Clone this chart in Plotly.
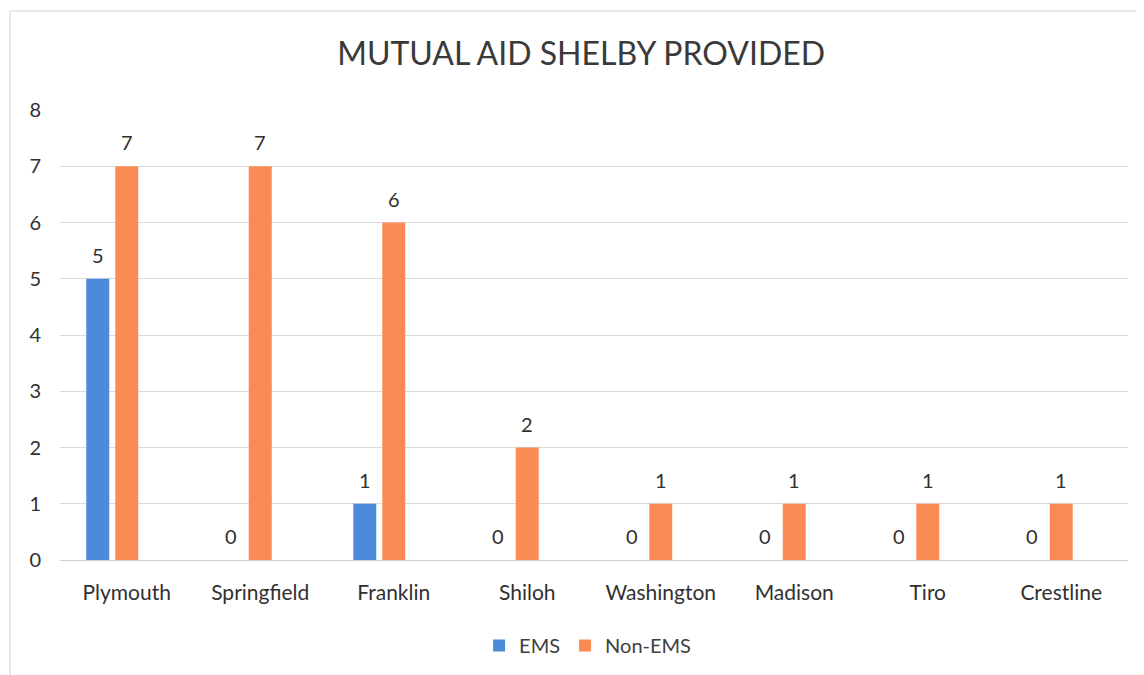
import plotly.graph_objects as go

categories = ["Plymouth", "Springfield", "Franklin", "Shiloh", "Washington", "Madison", "Tiro", "Crestline"]
ems = [5, 0, 1, 0, 0, 0, 0, 0]
non_ems = [7, 7, 6, 2, 1, 1, 1, 1]

x_idx = list(range(len(categories)))
BW = 0.172
GAP = 0.045
EMS_OFF = -BW / 2 - GAP - BW
NON_OFF = -BW / 2

fig = go.Figure()
fig.add_trace(go.Bar(
    x=x_idx, y=ems, name="EMS", width=BW, offset=EMS_OFF,
    marker=dict(color="#4C8BDA", line=dict(width=0)),
))
fig.add_trace(go.Bar(
    x=x_idx, y=non_ems, name="Non-EMS", width=BW, offset=NON_OFF,
    marker=dict(color="#FA8B54", line=dict(width=0)),
))

annotations = []
for xi, v in zip(x_idx, ems):
    annotations.append(dict(x=xi + EMS_OFF + BW / 2, y=v, xref="x", yref="y", text=str(v),
                            showarrow=False, yshift=24, font=dict(size=20, color="#303030")))
for xi, v in zip(x_idx, non_ems):
    annotations.append(dict(x=xi + NON_OFF + BW / 2, y=v, xref="x", yref="y", text=str(v),
                            showarrow=False, yshift=24, font=dict(size=20, color="#303030")))

fig.update_layout(
    width=1144, height=675,
    margin=dict(l=52, r=24, t=102, b=123),
    paper_bgcolor="white", plot_bgcolor="white",
    font=dict(family="Lato", color="#404040", size=20),
    title=dict(text="MUTUAL AID SHELBY PROVIDED", x=0.501, xanchor="center",
               y=0.932, yanchor="middle", font=dict(size=32, color="#3a3a3a", family="Lato")),
    showlegend=True,
    legend=dict(orientation="h", x=0.494, xanchor="center", y=-0.19, yanchor="middle",
                font=dict(size=20, color="#404040"), traceorder="normal", itemwidth=30),
    xaxis=dict(tickmode="array", tickvals=x_idx, ticktext=categories, range=[-0.5, 7.5],
               showgrid=False, zeroline=False, showline=False, ticks="", ticklen=0,
               tickfont=dict(size=21, color="#303030"), ticklabelstandoff=18),
    yaxis=dict(range=[0, 8], dtick=1, showgrid=True, gridcolor="#d9d9d9", gridwidth=1,
               zeroline=True, zerolinecolor="#d0d0d0", zerolinewidth=1, showline=False,
               ticks="", tickfont=dict(size=20, color="#303030"), ticklabelstandoff=18),
    annotations=annotations,
    shapes=[dict(type="rect", xref="paper", yref="paper",
                 x0=(2 - 52) / 1068, x1=(1133 - 52) / 1068,
                 y0=(552 - 700) / 450, y1=(552 - 3) / 450,
                 line=dict(color="#d4d4d4", width=1), layer="below")],
)

fig.write_html("out.html")
